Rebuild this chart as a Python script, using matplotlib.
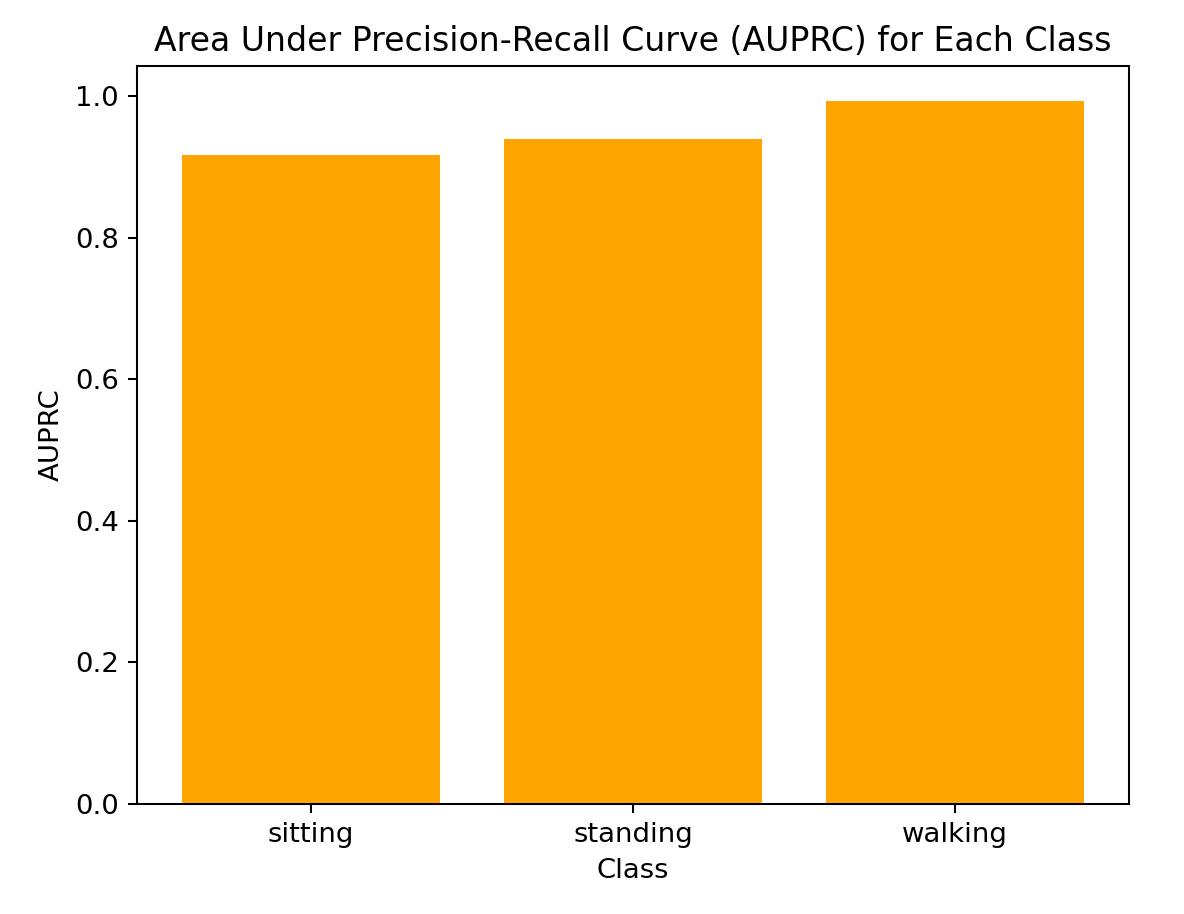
import matplotlib
matplotlib.use("Agg")
import matplotlib.pyplot as plt

classes = ["sitting", "standing", "walking"]
auprc = [0.917, 0.939, 0.993]

plt.rcParams["font.size"] = 10.7
plt.rcParams["axes.titlesize"] = 12.9

dpi = 185
fig = plt.figure(figsize=(1184 / dpi, 914 / dpi), dpi=dpi)
fig.subplots_adjust(left=0.1157, right=0.9535, bottom=0.1204, top=0.9278)
ax = fig.add_subplot(111)

ax.bar(classes, auprc, color="orange")
ax.set_xlabel("Class")
ax.set_ylabel("AUPRC")
ax.set_title("Area Under Precision-Recall Curve (AUPRC) for Each Class")

fig.savefig("out.png", dpi=dpi)
